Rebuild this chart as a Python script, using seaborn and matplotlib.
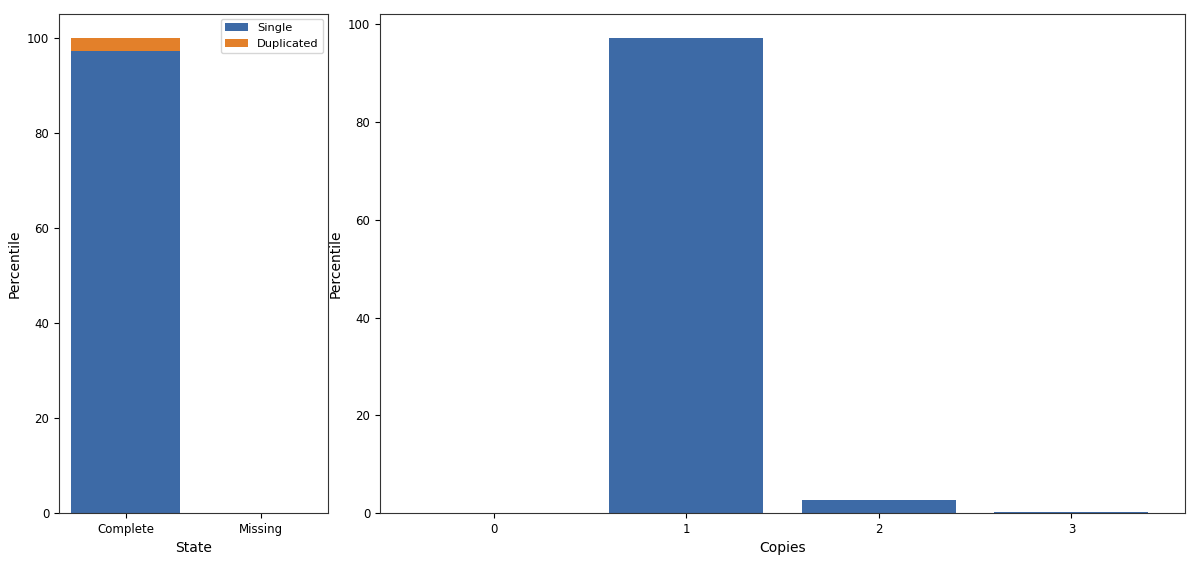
import pandas as pd
import matplotlib
matplotlib.use("Agg")
import matplotlib.pyplot as plt
import seaborn as sns

# Data
states = ["Complete", "Missing"]
single_pct = [97.2, 0.0]
duplicated_pct = [2.8, 0.0]

copies = ["0", "1", "2", "3"]
copies_pct = [0.0, 97.2, 2.7, 0.15]

BLUE = "#3d6aa6"
ORANGE = "#e3802a"

plt.rcParams["font.family"] = ["DejaVu Sans"]
plt.rcParams["xtick.labelsize"] = 8.5
plt.rcParams["ytick.labelsize"] = 8.5
plt.rcParams["axes.labelsize"] = 10
plt.rcParams["axes.edgecolor"] = "#333333"

df_state = pd.DataFrame({"State": states, "Single": single_pct, "Duplicated": duplicated_pct})
df_state["Total"] = df_state["Single"] + df_state["Duplicated"]
df_copies = pd.DataFrame({"Copies": copies, "Percentile": copies_pct})

fig = plt.figure(figsize=(12, 5.61), dpi=100)
ax1 = fig.add_axes([59 / 1200, 1 - 513 / 561, 269 / 1200, 499 / 561])
ax2 = fig.add_axes([380 / 1200, 1 - 513 / 561, 805 / 1200, 499 / 561])

# stacked bars: total in orange underneath, single in blue on top
sns.barplot(data=df_state, x="State", y="Total", color=ORANGE, saturation=1,
            width=0.8, ax=ax1, label="Duplicated")
sns.barplot(data=df_state, x="State", y="Single", color=BLUE, saturation=1,
            width=0.8, ax=ax1, label="Single")
ax1.set_ylabel("Percentile")
ax1.set_xlabel("State")
ax1.set_xlim(-0.49, 1.49)
ax1.set_ylim(0, 105)
handles, labels = ax1.get_legend_handles_labels()
ax1.legend(handles[::-1], labels[::-1], loc="upper right", fontsize=8.2,
           borderaxespad=0.4)

sns.barplot(data=df_copies, x="Copies", y="Percentile", color=BLUE, saturation=1,
            width=0.8, ax=ax2)
ax2.set_xlim(-0.59, 3.59)
ax2.set_ylim(0, 102.1)
ax2.set_xlabel("Copies")
ax2.set_ylabel("Percentile")

fig.savefig("out.png", dpi=100)
